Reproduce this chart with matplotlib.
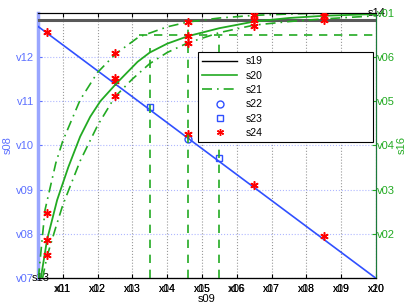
import numpy as np
import matplotlib
matplotlib.use('Agg')
import matplotlib.pyplot as plt
from matplotlib.lines import Line2D

plt.rcParams['font.family'] = ['Liberation Sans', 'DejaVu Sans']

## Values
xt = [1, 2, 3, 4, 5, 6, 7, 8, 9, 10]
xlab_a = ['x01', 'x02', 'x03', 'x04', 'x05', 'x06', 'x07', 'x08', 'x09', 'x10']
xlab_b = ['x11', 'x12', 'x13', 'x14', 'x15', 'x16', 'x17', 'x18', 'x19', 'x20']
yl_t = [7, 8, 9, 10, 11, 12]
yl_lab = ['v07', 'v08', 'v09', 'v10', 'v11', 'v12']
yr_t = [1, 2, 3, 4, 5, 6]
yr_lab = ['v02', 'v03', 'v04', 'v05', 'v06', 'v01']

# blue line (left axis)
line_x = [0.29, 10.0]
line_y = [12.69, 7.0]
circ_x = [4.6]
circ_y = [10.14]
sq_x = [3.5, 5.5]
sq_y = [10.86, 9.72]
star_lx = [0.55, 2.5, 4.6, 6.5, 8.5]
star_ly = [12.56, 11.45, 10.25, 9.1, 7.95]

# green curves (right axis)
mid_x = [0.37, 0.55, 0.84, 1.16, 1.5, 1.79, 2.08, 2.54, 3.15, 3.5, 4.0, 4.6, 5.5, 6.5, 7.5, 8.5, 10.0]
mid_y = [0.0, 0.87, 1.77, 2.51, 3.2, 3.65, 4.0, 4.4, 4.89, 5.1, 5.3, 5.47, 5.65, 5.8, 5.88, 5.93, 5.97]
up_x = [0.3, 0.49, 0.8, 1.0, 1.5, 2.0, 2.52, 3.18, 4.0, 4.6, 5.5, 6.5, 7.5, 8.5, 10.0]
up_y = [0.0, 1.54, 2.6, 3.1, 4.03, 4.65, 5.07, 5.45, 5.68, 5.79, 5.88, 5.94, 5.97, 5.99, 6.0]
lo_x = [0.42, 0.55, 0.8, 1.0, 1.5, 2.0, 2.5, 3.0, 3.5, 4.0, 4.6, 5.5, 6.5, 7.5, 8.5, 10.0]
lo_y = [0.0, 0.5, 1.15, 1.65, 2.65, 3.45, 4.1, 4.5, 4.85, 5.1, 5.32, 5.55, 5.72, 5.8, 5.86, 5.93]
star_rx = [0.55, 0.55, 0.55, 2.5, 2.5, 2.5, 4.6, 4.6, 4.6, 6.5, 6.5, 6.5, 8.5, 8.5, 8.5]
star_ry = [1.47, 0.87, 0.53, 5.09, 4.53, 4.12, 5.79, 5.47, 5.32, 5.95, 5.84, 5.7, 6.0, 5.93, 5.84]
vd_x = [3.5, 4.6, 5.5]
vd_top = [5.2, 5.79, 5.47]
hd_x0 = 3.2
hd_y = 5.5
s19_y = 12.84

blue = '#3050ff'
lblue = '#5c70ff'
green = '#22aa22'
dgreen = '#1a7a3a'
dashdot = (0, (6, 3, 1, 3))
dashed = (0, (5, 4))

fig = plt.figure(figsize=(4.15, 3.08), dpi=100)
ax = fig.add_axes([0.0916, 0.0964, 0.8144, 0.8624])
ax2 = ax.twinx()

ax.set_xlim(0.29, 10.0)
ax.set_ylim(7, 13)
ax2.set_ylim(0, 6)

ax.grid(True, axis='x', linestyle=':', color='0.6', lw=0.8)
ax.grid(True, axis='y', linestyle=':', color='#b0b8ff', lw=0.8)

ax.plot(line_x, line_y, color=blue, lw=1.2, zorder=3)
ax.axhline(s19_y, color='0.35', lw=2.2, zorder=3)

ax2.plot(mid_x, mid_y, color=green, lw=1.3)
ax2.plot(up_x, up_y, color=green, lw=1.2, ls=dashdot)
ax2.plot(lo_x, lo_y, color=green, lw=1.2, ls=dashdot)
for xv, tv in zip(vd_x, vd_top):
    ax2.plot([xv, xv], [0, tv], color=green, lw=1.2, ls=dashed)
ax2.plot([hd_x0, 10.0], [hd_y, hd_y], color=green, lw=1.2, ls=dashed)

ax.plot(circ_x, circ_y, 'o', mfc='none', mec=blue, ms=5, zorder=4)
ax.plot(sq_x, sq_y, 's', mfc='none', mec=blue, ms=5, zorder=4)
ax.plot(star_lx, star_ly, marker=(6, 2, 0), ls='none', color='red', ms=6, mew=1.1, zorder=5)
ax2.plot(star_rx, star_ry, marker=(6, 2, 0), ls='none', color='red', ms=6, mew=1.1, zorder=5)

# ticks
ax.set_xticks(xt, labels=xlab_a)
sec = ax.secondary_xaxis('bottom')
sec.set_xticks(xt, labels=xlab_b)
sec.tick_params(length=0, labelsize=7.5, pad=4)
ax.set_yticks(yl_t, labels=yl_lab)
ax2.set_yticks(yr_t, labels=yr_lab)
ax.tick_params(axis='x', direction='in', length=3, labelsize=7.5, top=True, pad=4)
ax.tick_params(axis='y', direction='in', length=3, labelsize=8, colors=lblue, pad=3)
ax2.tick_params(axis='y', direction='in', length=3, labelsize=8, colors=green, pad=1)

ax.spines['top'].set_color('black')
ax.spines['bottom'].set_color('black')
ax.spines['left'].set_color('#9aa6ff')
ax.spines['left'].set_linewidth(2.5)
ax2.spines['right'].set_color(dgreen)
ax2.spines['left'].set_visible(False)

ax.set_ylabel('s08', color=lblue, fontsize=8, labelpad=2)
ax2.set_ylabel('s16', color=green, fontsize=8, labelpad=1)
ax.set_xlabel('s09', fontsize=8, labelpad=0)
ax.text(-0.02, 0.0, 's13', transform=ax.transAxes, fontsize=8, ha='left', va='center')
ax.text(0.975, 1.0, 's14', transform=ax.transAxes, fontsize=8, ha='left', va='center')

# legend
handles = [Line2D([], [], color='black', lw=1),
           Line2D([], [], color=green, lw=1.2),
           Line2D([], [], color=green, lw=1.2, ls=dashdot),
           Line2D([], [], ls='none', marker='o', mfc='none', mec=blue, ms=5),
           Line2D([], [], ls='none', marker='s', mfc='none', mec=blue, ms=5),
           Line2D([], [], ls='none', marker=(6, 2, 0), color='red', ms=5)]
leg = ax2.legend(handles, ['s19', 's20', 's21', 's22', 's23', 's24'],
                 loc='upper left', bbox_to_anchor=(0.473, 0.498, 0.518, 0.354),
                 mode='expand', fontsize=7.5, frameon=True, fancybox=False,
                 borderaxespad=0, handlelength=3.4, labelspacing=0.42, numpoints=1)
leg.get_frame().set_edgecolor('black')
leg.get_frame().set_linewidth(0.8)
leg.get_frame().set_alpha(1)

fig.savefig('out.png', dpi=100)
